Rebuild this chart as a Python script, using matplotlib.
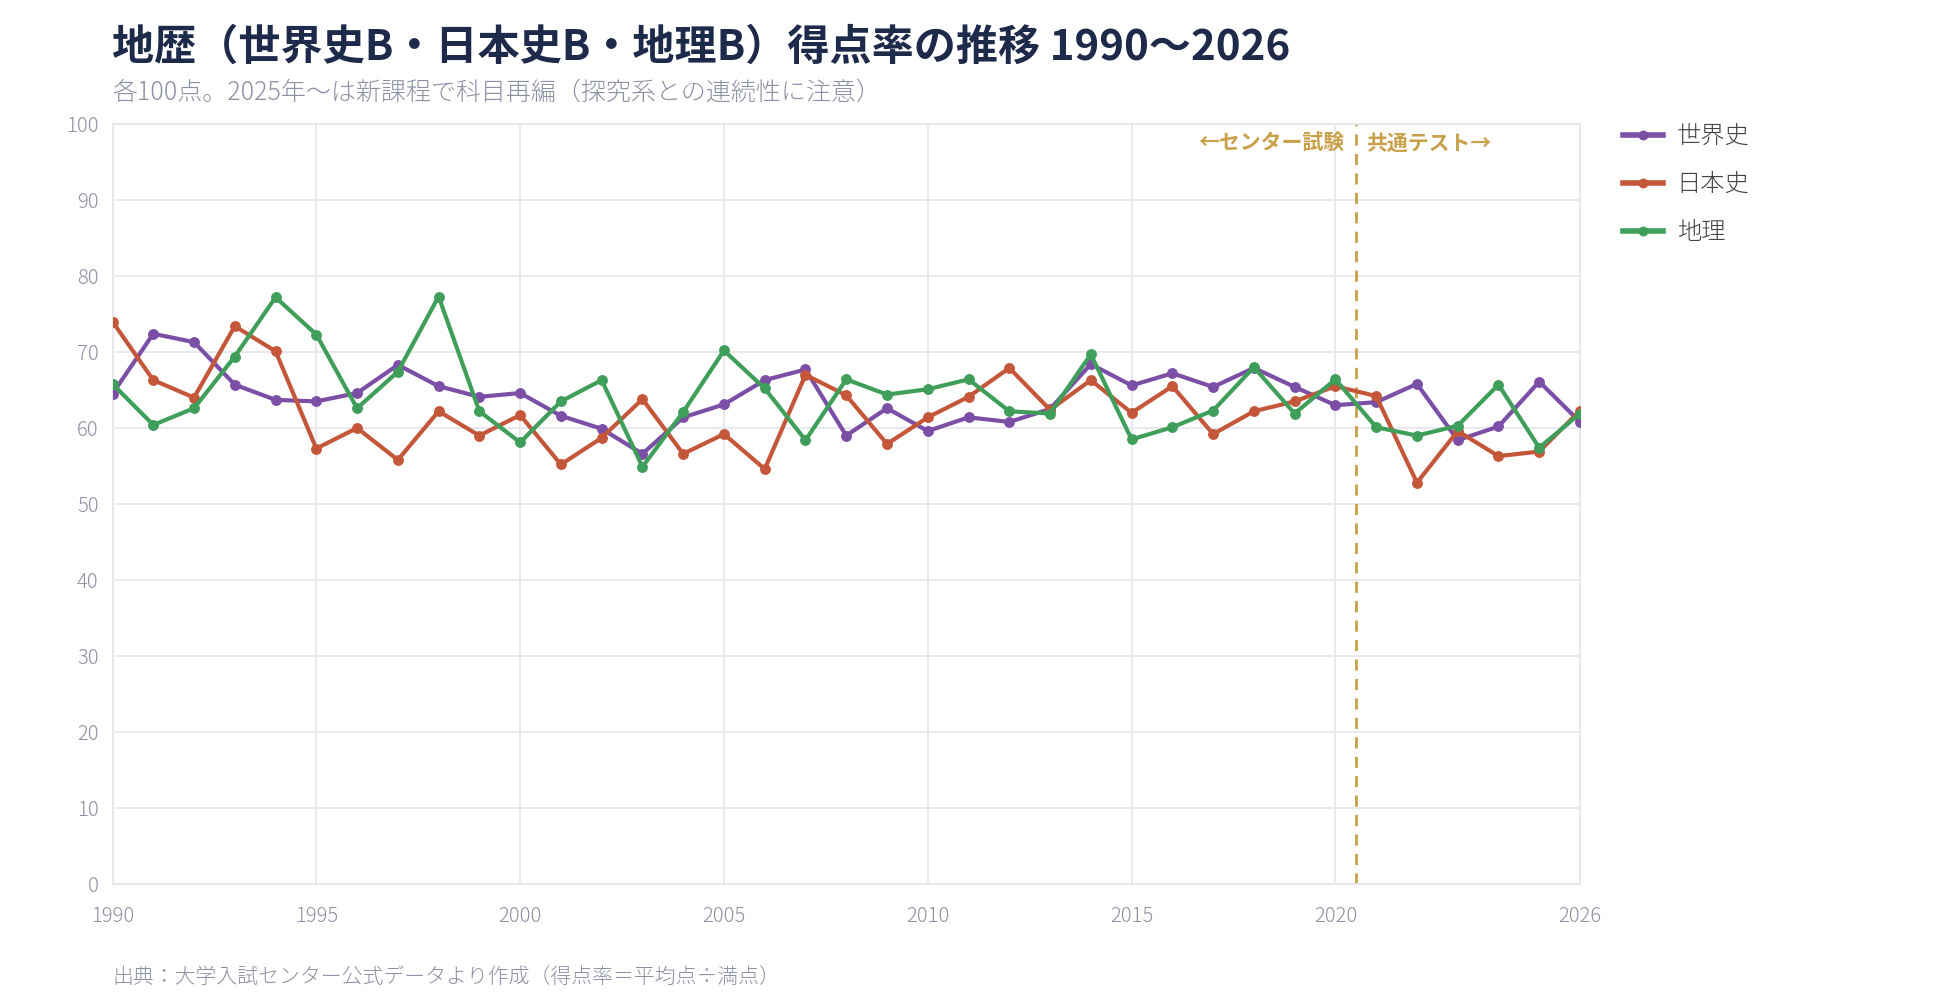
#!/usr/bin/env python3
"""地歴 得点率の推移 1990-2026."""
import numpy as np
import matplotlib
matplotlib.use("Agg")
import matplotlib.pyplot as plt

plt.rcParams['font.family'] = ['Noto Sans CJK JP', 'DejaVu Sans']

years = list(range(1990, 2027))
sekaishi = [64.5, 72.4, 71.3, 65.7, 63.7, 63.5, 64.6, 68.3, 65.5, 64.1,
            64.6, 61.6, 59.9, 56.6, 61.4, 63.1, 66.3, 67.7, 59.0, 62.6,
            59.6, 61.4, 60.8, 62.5, 68.4, 65.6, 67.2, 65.4, 67.9, 65.4,
            63.0, 63.4, 65.8, 58.4, 60.2, 66.1, 60.8]
nihonshi = [74.0, 66.3, 64.0, 73.4, 70.1, 57.3, 60.0, 55.8, 62.2, 59.0,
            61.7, 55.2, 58.7, 63.8, 56.6, 59.2, 54.6, 67.0, 64.3, 57.9,
            61.4, 64.1, 67.9, 62.4, 66.3, 62.0, 65.5, 59.2, 62.2, 63.5,
            65.5, 64.2, 52.8, 59.6, 56.3, 56.9, 62.3]
chiri = [65.8, 60.4, 62.6, 69.4, 77.2, 72.3, 62.6, 67.4, 77.3, 62.2,
         58.1, 63.5, 66.3, 54.9, 62.1, 70.2, 65.2, 58.4, 66.4, 64.4,
         65.1, 66.4, 62.2, 61.9, 69.7, 58.5, 60.1, 62.3, 68.0, 61.9,
         66.4, 60.1, 59.0, 60.3, 65.7, 57.4, 61.9]
series = [("世界史", sekaishi, "#7B4FA6"),
          ("日本史", nihonshi, "#C4573A"),
          ("地理", chiri, "#3F9F5A")]
boundary = 2020.5
xticks = [1990, 1995, 2000, 2005, 2010, 2015, 2020, 2026]

W, H = 1960, 1000
fig = plt.figure(figsize=(W / 100, H / 100), dpi=100)
ax = fig.add_axes([112.5 / W, 1 - 884 / H, (1580 - 112.5) / W, (884 - 124) / H])

for name, vals, col in series:
    ax.plot(years, vals, "-o", color=col, label=name, linewidth=3,
            markersize=6.8, zorder=3)

gold = "#C9A04A"
ax.axvline(boundary, color=gold, linestyle=(0, (4, 3)), linewidth=2, zorder=2)
ax.text(boundary - 0.27, 97.5, "←センター試験", color=gold, fontsize=15,
        fontweight="bold", ha="right", va="center")
ax.text(boundary + 0.25, 97.5, "共通テスト→", color=gold, fontsize=15,
        fontweight="bold", ha="left", va="center")

ax.set_xlim(1990, 2026); ax.set_ylim(0, 100)
ax.set_xticks(xticks)
ax.set_yticks(np.arange(0, 101, 10))
ax.grid(True, color="#E6E6EE", linewidth=1.3, zorder=0)
ax.set_axisbelow(True)
for s in ax.spines.values():
    s.set_color("#E6E6EE"); s.set_linewidth(1.3)
ax.tick_params(length=0, colors="#8C90A3", labelsize=14.5, pad=10)
ax.tick_params(axis="x", pad=16)
for lbl in ax.get_xticklabels() + ax.get_yticklabels():
    lbl.set_fontweight("light")

leg = fig.legend(loc="upper left", bbox_to_anchor=(1611 / W, 1 - 112 / H), frameon=False,
                 fontsize=17.5, labelcolor="#444444", handlelength=1.65, handletextpad=0.55,
                 labelspacing=0.95, borderpad=0, markerscale=0.9)
for t in leg.get_texts():
    t.set_fontweight("light")
for h in leg.get_lines():
    h.set_linewidth(4)

fig.text(112 / W, 1 - 48 / H, "地歴（世界史B・日本史B・地理B）得点率の推移 1990〜2026",
         fontsize=30.3, fontweight="bold", color="#1E2A4A", va="center")
fig.text(112 / W, 1 - 92 / H, "各100点。2025年〜は新課程で科目再編（探究系との連続性に注意）",
         fontsize=18, fontweight="light", color="#8C90A3", va="center")
fig.text(112 / W, 1 - 977 / H, "出典：大学入試センター公式データより作成（得点率＝平均点÷満点）",
         fontsize=15, fontweight="light", color="#8C90A3", va="center")

plt.savefig("out.png", dpi=100)
plt.close()
